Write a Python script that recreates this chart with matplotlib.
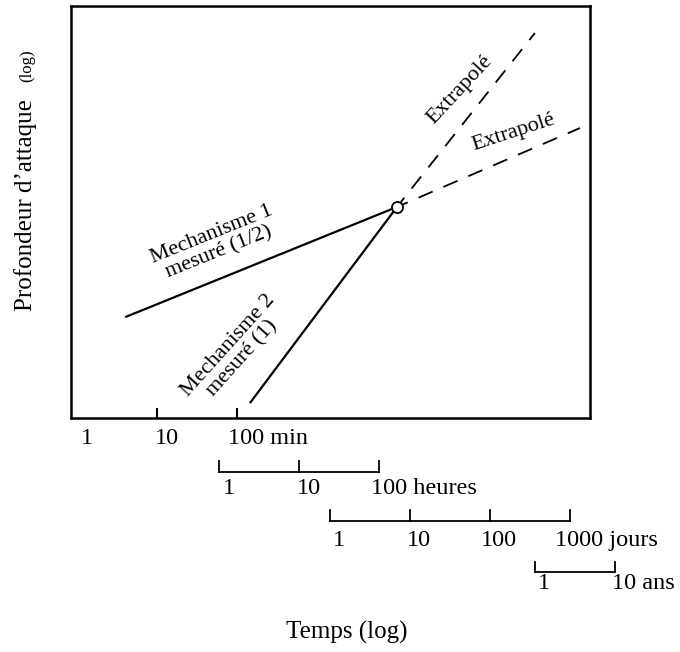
import numpy as np
import matplotlib
matplotlib.use("Agg")
import matplotlib.pyplot as plt
from matplotlib.transforms import offset_copy

plt.rcParams['font.family'] = ['Liberation Serif', 'DejaVu Serif']

# time in minutes, depth in arbitrary units (both on log scales)
t_cross, d_cross = 1.0e4, 129.0
mech1_t = [4.0, t_cross]          # measured, slope 1/2
mech1_d = [10.2, d_cross]
mech1_ext_t = [t_cross, 1.94e6]   # extrapolated
mech1_ext_d = [d_cross, 794.0]
mech2_t = [145.0, t_cross]        # measured, slope 1
mech2_d = [1.41, d_cross]
mech2_ext_t = [t_cross, 5.3e5]
mech2_ext_d = [d_cross, 7080.0]

# secondary time scales (value, unit, minutes per unit)
min_ticks = [1, 10, 100]
hour_ticks = [1, 10, 100]
day_ticks = [1, 10, 100, 1000]
year_ticks = [1, 10]

fig = plt.figure(figsize=(6.8, 6.52), dpi=100)
ax = fig.add_axes([71 / 680, 1 - 418 / 652, 519 / 680, 412 / 652])
ax.set_xscale('log')
ax.set_yscale('log')
ax.set_xlim(10 ** -0.075, 10 ** 6.4125)
ax.set_ylim(1, 10 ** 4.12)

lw = 1.6
ax.plot(mech1_t, mech1_d, color='black', lw=lw, solid_capstyle='butt')
ax.plot(mech2_t, mech2_d, color='black', lw=lw, solid_capstyle='butt')
ax.plot(mech1_ext_t, mech1_ext_d, color='black', lw=1.3, linestyle=(2, (8.5, 6.5)))
ax.plot(mech2_ext_t, mech2_ext_d, color='black', lw=1.3, linestyle=(2, (8.5, 6.5)))
ax.plot([t_cross], [d_cross], marker='o', ms=8, mfc='white', mec='black', mew=1.3, zorder=5)

for s in ax.spines.values():
    s.set_linewidth(1.8)
ax.set_yticks([])
ax.minorticks_off()
ax.set_xticks([10, 100])
ax.tick_params(axis='x', direction='in', length=7, width=1.5, labelbottom=False)
ax.tick_params(axis='y', which='both', left=False)

fs = 16
ax.text(53, 56, 'Mechanisme 1\nmesuré (1/2)', rotation=22, ha='center', va='center',
        rotation_mode='anchor', fontsize=fs, linespacing=1.0)
ax.text(95, 4.6, 'Mechanisme 2\nmesuré (1)', rotation=48, ha='center', va='center',
        rotation_mode='anchor', fontsize=fs, linespacing=1.0)
ax.text(6.1e4, 1900, 'Extrapolé', rotation=47, ha='center', va='center',
        rotation_mode='anchor', fontsize=fs)
ax.text(2.9e5, 708, 'Extrapolé', rotation=18, ha='center', va='center',
        rotation_mode='anchor', fontsize=fs)

trans = ax.get_xaxis_transform()
lab_fs = 17.5


def scale_labels(values, factor, unit, y):
    for i, v in enumerate(values):
        txt = str(v) + (' ' + unit if i == len(values) - 1 else '')
        tr = offset_copy(trans, fig=fig, x=7 - len(str(v)) * 4.4, y=0, units='points')
        ax.text(v * factor, y, txt, transform=tr, ha='left', va='center',
                fontsize=lab_fs, clip_on=False)


def scale_bar(values, factor, y_bar, y_top):
    xs = [v * factor for v in values]
    ax.plot([xs[0], xs[-1]], [y_bar, y_bar], color='black', lw=1.3,
            transform=trans, clip_on=False)
    for x in xs:
        ax.plot([x, x], [y_bar, y_top], color='black', lw=1.3,
                transform=trans, clip_on=False)


scale_labels(min_ticks, 1, 'min', -0.05)

scale_bar(hour_ticks, 60, -0.131, -0.104)
scale_labels(hour_ticks, 60, 'heures', -0.172)

scale_bar(day_ticks, 1440, -0.250, -0.223)
scale_labels(day_ticks, 1440, 'jours', -0.298)

scale_bar(year_ticks, 525600, -0.374, -0.350)
scale_labels(year_ticks, 525600, 'ans', -0.402)

fig.text(347 / 680, 1 - 632 / 652, 'Temps (log)', ha='center', va='center', fontsize=18)
fig.text(26 / 680, 1 - 205 / 652, 'Profondeur d’attaque', rotation=90,
         ha='center', va='center', fontsize=18)
fig.text(27 / 680, 1 - 66 / 652, '(log)', rotation=90,
         ha='center', va='center', fontsize=12)

fig.savefig('out.png', dpi=100)
